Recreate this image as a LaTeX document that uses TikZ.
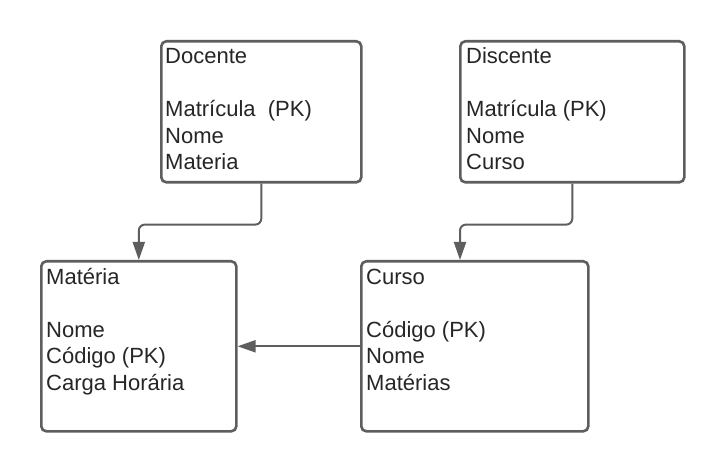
\documentclass[tikz,border=0pt]{standalone}
\usepackage{fontspec}
\setmainfont{Liberation Sans}
\usetikzlibrary{arrows.meta}
\definecolor{edge}{HTML}{5E5E5E}
\definecolor{ink}{HTML}{262626}
\begin{document}
\begin{tikzpicture}[x=1pt,y=-1pt,
  box/.style={draw=edge, line width=2.6pt, rounded corners=5pt, inner sep=0pt, anchor=north west},
  txt/.style={anchor=base west, align=left, inner sep=0pt, text=ink, font=\fontsize{22}{26.5}\selectfont},
  conn/.style={draw=edge, line width=2pt, rounded corners=6pt, -{Triangle[length=18pt,width=12pt]}}]
\useasboundingbox[fill=white] (0,0) rectangle (720,470);
\node[box, minimum width=200pt, minimum height=141pt] (doc) at (160,40) {};
\node[box, minimum width=224pt, minimum height=141pt] (dis) at (459,40) {};
\node[box, minimum width=195pt, minimum height=170pt] (mat) at (40,260) {};
\node[box, minimum width=227pt, minimum height=170pt] (cur) at (360,260) {};
\node[txt] (doct) at (165,170) {Docente\\\mbox{}\\Matrícula~ (PK)\\Nome\\Materia};
\node[txt] (dist) at (466,170) {Discente\\\mbox{}\\Matrícula (PK)\\Nome\\Curso};
\node[txt] (matt) at (46,390) {Matéria\\\mbox{}\\Nome\\Código (PK)\\Carga Horária};
\node[txt] (curt) at (366,390) {Curso\\\mbox{}\\Código (PK)\\Nome\\Matérias};
\coordinate (matin) at ([xshift=0pt]mat.north);
\coordinate (curin) at ([xshift=100pt]cur.north west);
\draw[conn] (doc.south) -- ++(0,41) -| (matin);
\draw[conn] (dis.south) -- ++(0,41) -| (curin);
\draw[conn] (cur.west) -- (mat.east);
\end{tikzpicture}
\end{document}
